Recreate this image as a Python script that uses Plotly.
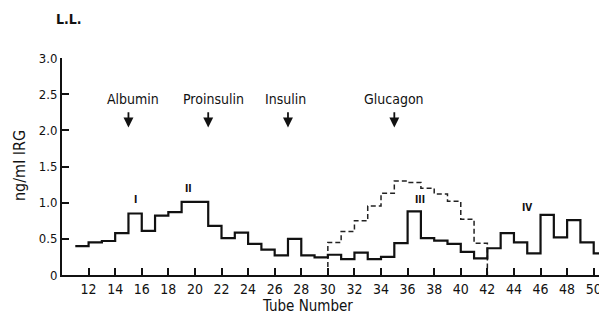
import plotly.graph_objects as go

# Solid curve: tube (left edge) and ng/ml IRG values
tubes_solid = list(range(11, 51))
irg_solid = [0.40, 0.45, 0.47, 0.58, 0.85, 0.61, 0.82, 0.87, 1.01, 1.01,
             0.68, 0.51, 0.585, 0.43, 0.35, 0.27, 0.50, 0.27, 0.245, 0.28,
             0.22, 0.31, 0.22, 0.25, 0.44, 0.88, 0.51, 0.475, 0.43, 0.32,
             0.23, 0.37, 0.58, 0.45, 0.30, 0.83, 0.52, 0.76, 0.45, 0.30]

# Dashed curve
tubes_dashed = list(range(30, 42))
irg_dashed = [0.45, 0.60, 0.75, 0.955, 1.13, 1.30, 1.28, 1.20, 1.12, 1.02, 0.77, 0.44]

# Markers
marker_names = ["Albumin", "Proinsulin", "Insulin", "Glucagon"]
marker_tubes = [15, 21, 27, 35]
marker_text_shift = [5, 5, -2, 0]

peak_labels = ["I", "II", "III", "IV"]
peak_tubes = [15.5, 19.5, 36.9, 45.0]
peak_vals = [1.05, 1.2, 1.05, 0.94]

xtick_vals = list(range(12, 51, 2))
ytick_vals = [0, 0.5, 1.0, 1.5, 2.0, 2.5, 3.0]
ytick_text = ["0", "0.5", "1.0", "1.5", "2.0", "2.5", "3.0"]

FONT = "DejaVu Sans Condensed, Liberation Sans Narrow, DejaVu Sans, sans-serif"

# page body has an 8px margin, so the figure is drawn 8px right/down
OFF = 8
W, H = 607 - OFF, 323 - OFF
ml, mr, mt, mb = 62 - OFF, 0, 58 - OFF, 48
pw, ph = W - ml - mr, H - mt - mb


def px2paper(px, py):
    # px, py are window pixel coordinates
    return (px - OFF - ml) / pw, (H - mb - (py - OFF)) / ph


xs = tubes_solid + [tubes_solid[-1] + 1]
ys = irg_solid + [irg_solid[-1]]

xd = [tubes_dashed[0]] + tubes_dashed + [tubes_dashed[-1] + 1, tubes_dashed[-1] + 1]
yd = [0] + irg_dashed + [irg_dashed[-1], 0]

fig = go.Figure()
fig.add_trace(go.Scatter(x=xd, y=yd, mode="lines", line_shape="hv",
                         line=dict(color="#222", width=1.5, dash="5px,3px"),
                         showlegend=False, hoverinfo="skip", cliponaxis=False))
fig.add_trace(go.Scatter(x=xs, y=ys, mode="lines", line_shape="hv",
                         line=dict(color="#111", width=2.2),
                         showlegend=False, hoverinfo="skip", cliponaxis=False))

anns = []
for name, t, sh in zip(marker_names, marker_tubes, marker_text_shift):
    anns.append(dict(x=t, y=2.44, text=name, showarrow=False, xshift=sh,
                     xanchor="center", yanchor="middle",
                     font=dict(family=FONT, size=14, color="#111")))
    anns.append(dict(x=t, y=2.04, ax=t, ay=2.27, axref="x", ayref="y",
                     xref="x", yref="y", text="", showarrow=True,
                     arrowhead=2, arrowsize=1.1, arrowwidth=1.8, arrowcolor="#111"))
for lab, t, v in zip(peak_labels, peak_tubes, peak_vals):
    anns.append(dict(x=t, y=v, text="<b>" + lab + "</b>", showarrow=False,
                     xanchor="center", yanchor="middle",
                     font=dict(family=FONT, size=10, color="#111")))

lx, ly = px2paper(69, 19)
anns.append(dict(x=lx, y=ly, xref="paper", yref="paper", text="<b>L.L.</b>",
                 xanchor="center", yanchor="middle",
                 showarrow=False, font=dict(family=FONT, size=14, color="#111")))
tx, ty = px2paper(307, 306)
anns.append(dict(x=tx, y=ty, xref="paper", yref="paper", text="Tube Number",
                 xanchor="center", yanchor="middle",
                 showarrow=False, font=dict(family=FONT, size=15, color="#111")))
yx, yy = px2paper(19, 166)
anns.append(dict(x=yx, y=yy, xref="paper", yref="paper", text="ng/ml IRG",
                 xanchor="center", yanchor="middle",
                 textangle=-90, showarrow=False,
                 font=dict(family=FONT, size=16, color="#111")))

fig.update_layout(
    width=W, height=H,
    margin=dict(l=ml, r=mr, t=mt, b=mb, autoexpand=False),
    plot_bgcolor="white", paper_bgcolor="white",
    font=dict(family=FONT, color="#111"),
    annotations=anns,
    xaxis=dict(range=[10, 51], tickvals=xtick_vals, ticks="inside", ticklen=7,
               tickwidth=2, tickcolor="#111", showline=True, linewidth=2,
               linecolor="#111", showgrid=False, zeroline=False, automargin=False,
               tickfont=dict(family=FONT, size=14, color="#111")),
    yaxis=dict(range=[0, 3.0], tickvals=ytick_vals, ticktext=ytick_text,
               ticks="inside", ticklen=7, tickwidth=2, tickcolor="#111",
               showline=True, linewidth=2, linecolor="#111", showgrid=False,
               zeroline=False, automargin=False,
               tickfont=dict(family=FONT, size=13, color="#111")),
)

fig.write_html("out.html")
